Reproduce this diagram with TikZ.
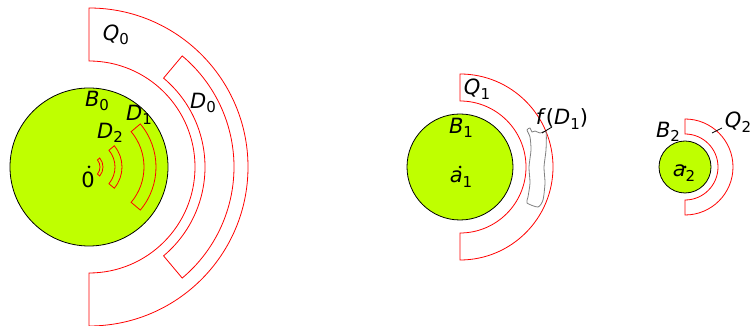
\documentclass[tikz,border=0pt]{standalone}
\usepackage{fontspec}
\setmainfont{DejaVu Sans}
\usetikzlibrary{calc}
\definecolor{ballgreen}{RGB}{191,255,0}
% half annulus / annular sector: center, inner r, outer r, half angle
\newcommand\ringpart[4]{($(#1)+(#4:#2)$) arc[start angle=#4, end angle=-#4, radius=#2pt]
  -- ($(#1)+(-#4:#3)$) arc[start angle=-#4, end angle=#4, radius=#3pt] -- cycle}
\newcommand\lbl[2]{\textit{#1}\raisebox{-0.22em}{\fontsize{15}{16}\selectfont #2}}
\begin{document}
\begin{tikzpicture}[
  x=1pt, y=1pt,
  every node/.style={font=\fontsize{21}{25}\selectfont, inner sep=1pt},
  ball/.style={draw=black, fill=ballgreen, line width=0.8pt},
  region/.style={draw=red, line width=0.8pt},
  image/.style={draw=gray, line width=0.8pt}
]
  \useasboundingbox (0,0) rectangle (751,326);
  % centres
  \coordinate (o0) at (89,159);
  \coordinate (o1) at (460,159);
  \coordinate (o2) at (685,159);

  % first picture
  \draw[ball] (o0) circle[radius=79pt];
  \draw[region] \ringpart{o0}{106}{159}{90};
  \draw[region] \ringpart{o0}{116}{145}{50};
  \draw[region] \ringpart{o0}{55}{67}{40};
  \draw[region] \ringpart{o0}{26}{33}{40};
  \draw[region] \ringpart{o0}{11}{14}{40};
  \fill (o0) circle[radius=1.5pt];
  \node (zero) at (88,146) {0};
  \node (lq0) at (116,291) {\lbl{Q}{0}};
  \node (lb0) at (97,225) {\lbl{B}{0}};
  \node (ld0) at (203,223) {\lbl{D}{0}};
  \node (ld1) at (139,211) {\lbl{D}{1}};
  \node (ld2) at (110,193) {\lbl{D}{2}};

  % second picture
  \draw[ball] (o1) circle[radius=53pt];
  \draw[region] \ringpart{o1}{66}{93}{90};
  \draw[image] plot[smooth cycle, tension=0.4] coordinates {
    (527,196) (530,198) (532,194) (535,195) (540,193) (546,194)
    (546,176) (544,159) (545,143) (543,126) (538,119)
    (527,123) (528,129) (530,143) (529,159) (531,176) (530,189)};
  \fill (o1) circle[radius=1.5pt];
  \node (la1) at (461,147) {\lbl{a}{1}};
  \node (lb1) at (461,198) {\lbl{B}{1}};
  \node (lq1) at (477,237) {\lbl{Q}{1}};
  \node (lfd1) at (562,207) {\textit{f}(\lbl{D}{1})};
  \coordinate (fd1tip) at (542,193);
  \coordinate (fd1end) at (552,199);
  \draw[line width=0.8pt] (fd1tip) -- (fd1end);

  % third picture
  \draw[ball] (o2) circle[radius=26pt];
  \draw[region] \ringpart{o2}{33}{48}{90};
  \fill (o2) circle[radius=1.5pt];
  \node (la2) at (684,153) {\lbl{a}{2}};
  \node (lb2) at (668,194) {\lbl{B}{2}};
  \node (lq2) at (738,204) {\lbl{Q}{2}};
  \coordinate (q2tip) at (712,193);
  \coordinate (q2end) at (722,198);
  \draw[line width=0.8pt] (q2tip) -- (q2end);
\end{tikzpicture}
\end{document}
